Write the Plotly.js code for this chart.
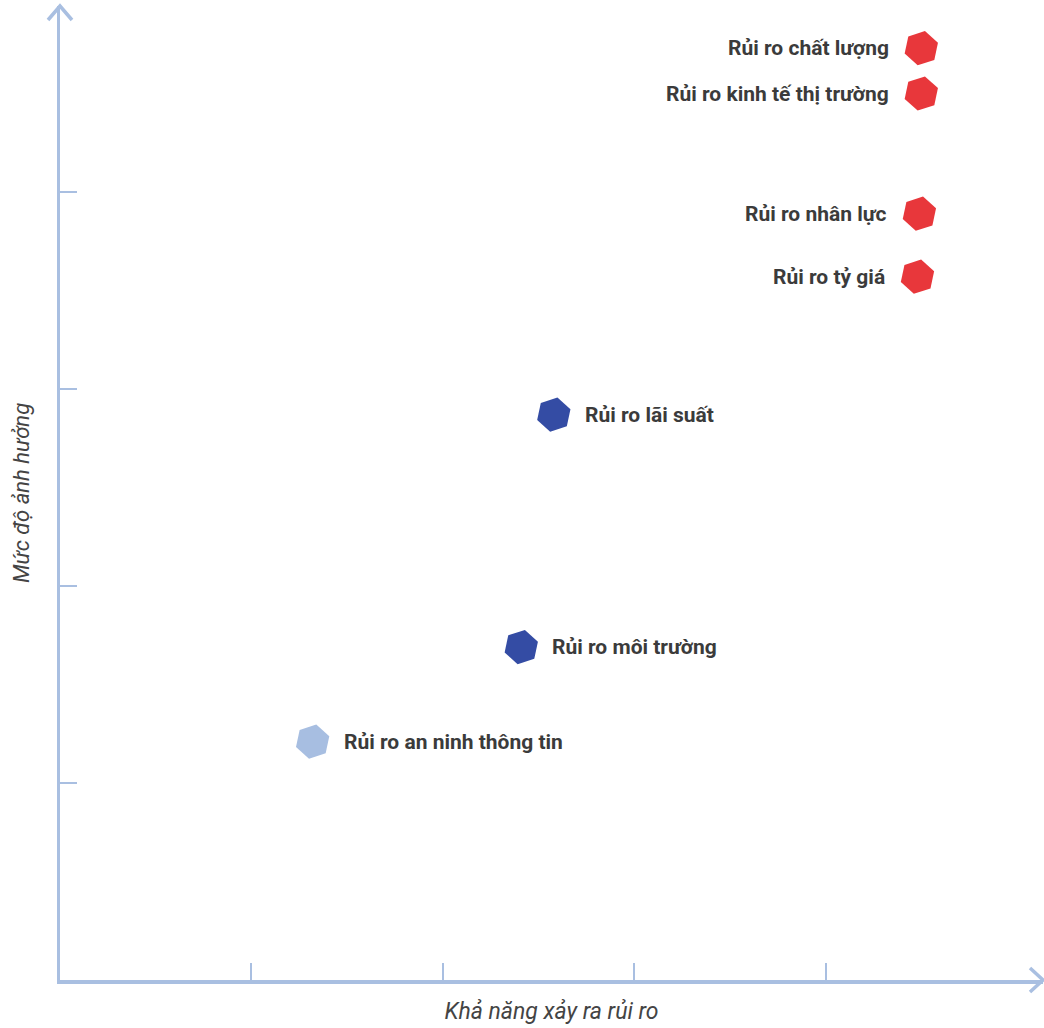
<!DOCTYPE html>
<html>
<head>
<meta charset="utf-8">
<script src="https://cdn.plot.ly/plotly-3.0.1.min.js"></script>
<style>html,body{margin:0;padding:0;background:#fff;}#chart{width:1044px;height:1028px;}</style>
</head>
<body>
<div id="chart"></div>
<script>
// Data
const riskNames = ["Rủi ro chất lượng","Rủi ro kinh tế thị trường","Rủi ro nhân lực","Rủi ro tỷ giá","Rủi ro lãi suất","Rủi ro môi trường","Rủi ro an ninh thông tin"];
const likelihood = [4.50, 4.50, 4.49, 4.48, 2.58, 2.41, 1.32];
const impact = [4.73, 4.50, 3.89, 3.57, 2.87, 1.69, 1.21];
const riskLevel = ["high","high","high","high","medium","medium","low"];
const xTitle = "Khả năng xảy ra rủi ro";
const yTitle = "Mức độ ảnh hưởng";
const tickValues = [1, 2, 3, 4];

const levelColor = {high: "#e8373b", medium: "#344ca4", low: "#a7bee1"};
const axisColor = "#a9bfe1";
const labelFont = {family: "Roboto, sans-serif", size: 21, color: "#3b3b3b", weight: 700};

const trace = {
  type: "scatter",
  mode: "markers",
  x: likelihood,
  y: impact,
  marker: {symbol: "hexagon", size: 35, angle: 12, color: riskLevel.map(l => levelColor[l]), line: {width: 0}},
  hoverinfo: "skip",
  cliponaxis: false
};

const annotations = riskNames.map((n, i) => {
  const left = riskLevel[i] === "high";
  return {
    x: likelihood[i], y: impact[i], xref: "x", yref: "y",
    text: "<b>" + n + "</b>", showarrow: false,
    xanchor: left ? "right" : "left", yanchor: "middle",
    xshift: left ? -30 : 29, yshift: 0,
    font: labelFont
  };
});

const shapes = [
  {type: "path", xref: "paper", yref: "paper", xsizemode: "pixel", ysizemode: "pixel", xanchor: 0, yanchor: 1,
   path: "M -12,-14 L 0,0 L 12,-14", line: {color: axisColor, width: 3.5}},
  {type: "path", xref: "paper", yref: "paper", xsizemode: "pixel", ysizemode: "pixel", xanchor: 1, yanchor: 0,
   path: "M -13,12 L 0,0 L -13,-12", line: {color: axisColor, width: 3.5}}
];

const layout = {
  width: 1044, height: 1028,
  margin: {l: 60, r: 1, t: 6, b: 48, pad: 0},
  paper_bgcolor: "#ffffff", plot_bgcolor: "#ffffff",
  showlegend: false,
  xaxis: {range: [0, 983/191.4], showgrid: false, zeroline: false, showline: true, linecolor: axisColor, linewidth: 3.5,
          ticks: "inside", tickvals: tickValues, ticklen: 17, tickwidth: 2, tickcolor: axisColor, showticklabels: false,
          title: {text: xTitle, standoff: 21, font: {family: "Roboto, sans-serif", size: 23, color: "#444444", style: "italic"}}},
  yaxis: {range: [0, 974/197], showgrid: false, zeroline: false, showline: true, linecolor: axisColor, linewidth: 3.5,
          ticks: "inside", tickvals: tickValues, ticklen: 17, tickwidth: 2, tickcolor: axisColor, showticklabels: false,
          title: {text: yTitle, standoff: 22, font: {family: "Roboto, sans-serif", size: 22, color: "#444444", style: "italic"}}},
  annotations: annotations,
  shapes: shapes
};

Plotly.newPlot("chart", [trace], layout, {displayModeBar: false, staticPlot: true});
</script>
</body>
</html>
